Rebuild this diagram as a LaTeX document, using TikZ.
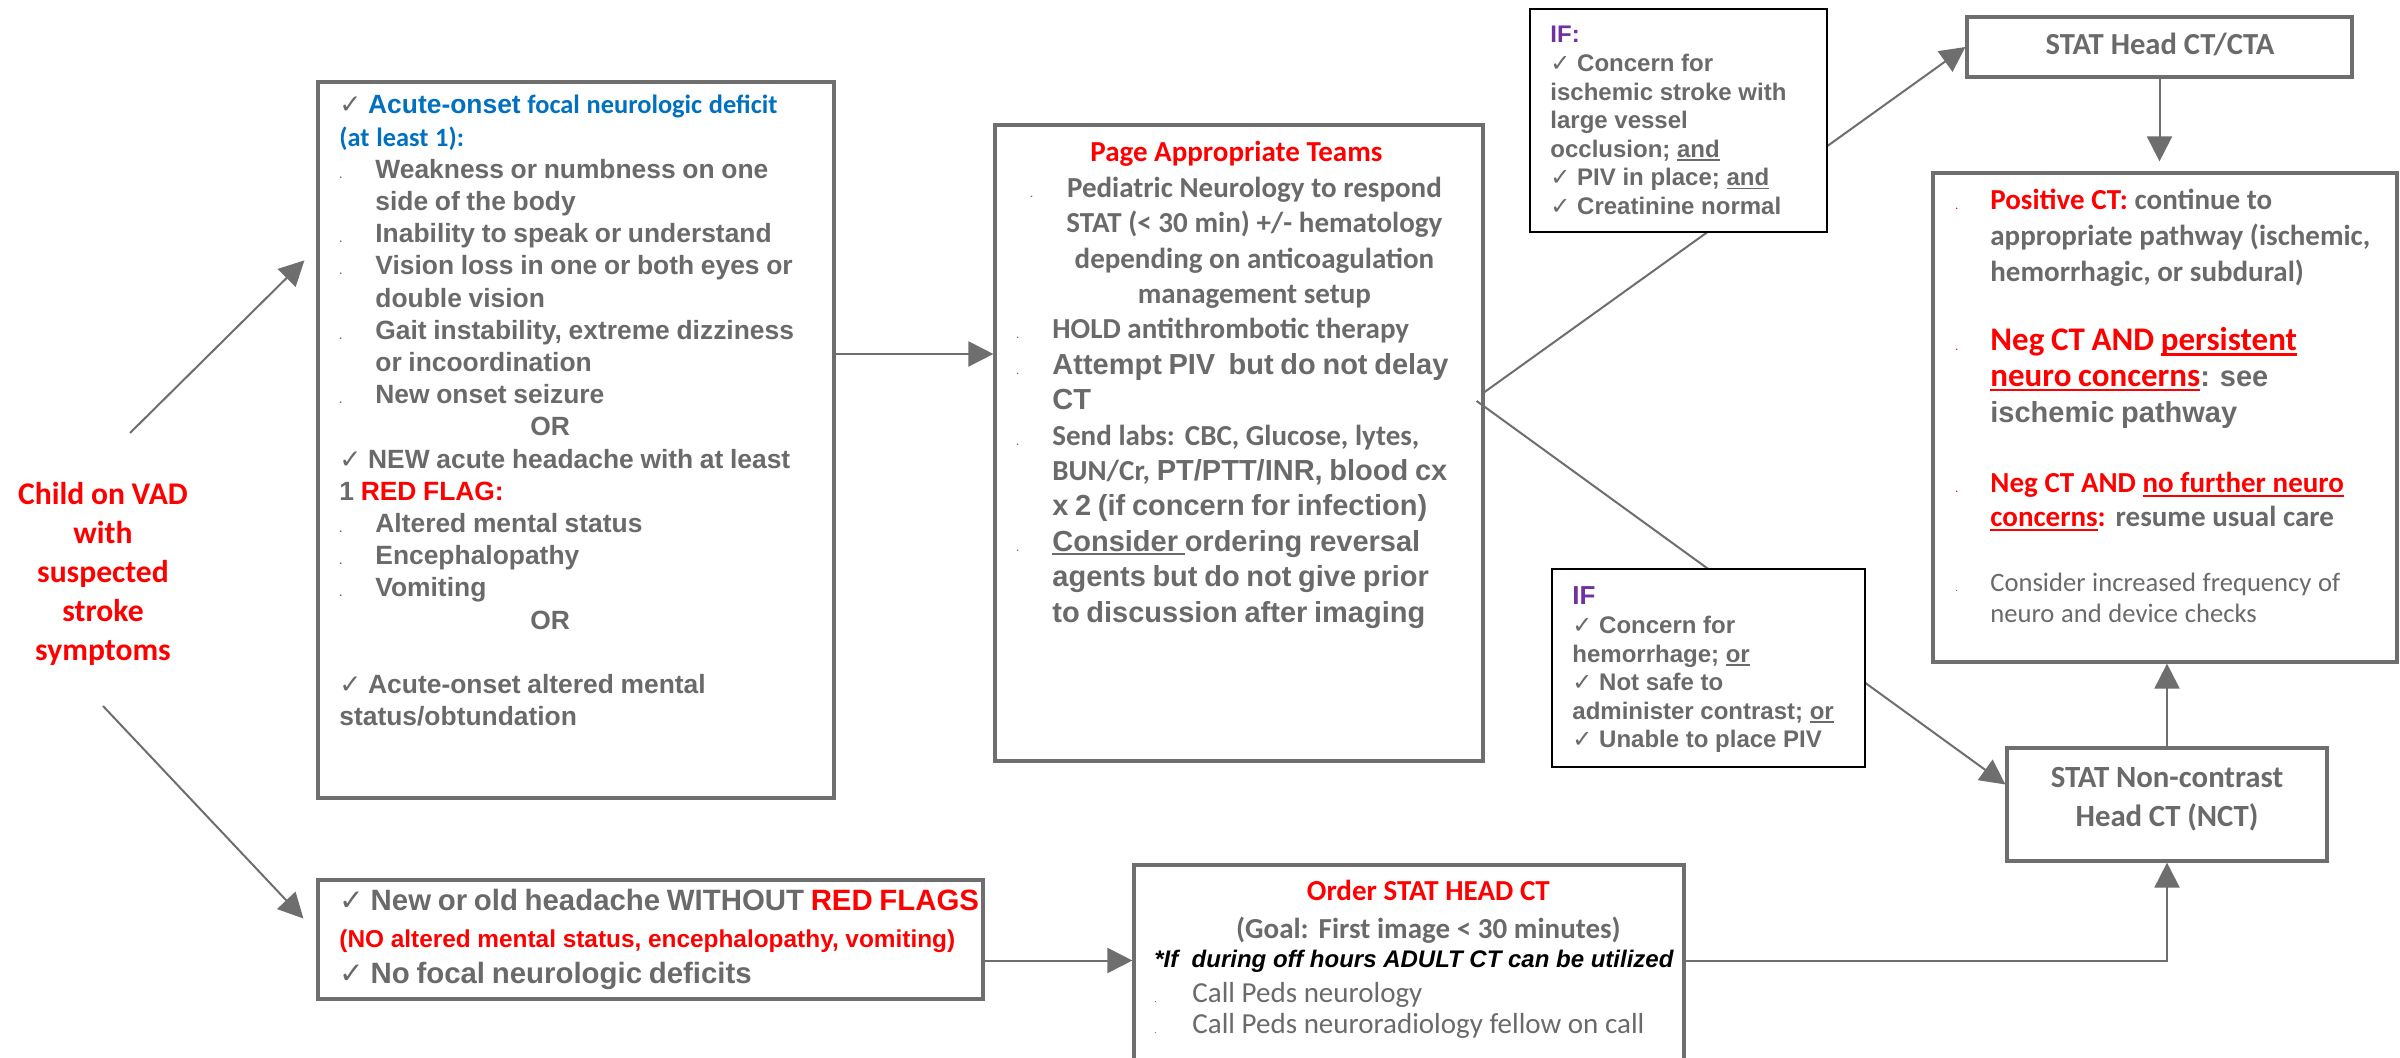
\documentclass[tikz,border=0pt]{standalone}
\usepackage{fontspec}
\usepackage{xcolor}
\usepackage{tikz}
\usetikzlibrary{arrows.meta, positioning, fit, calc}

\setmainfont{Liberation Sans}
\newfontfamily\calib{Carlito}
\newfontfamily\chkfont{DejaVu Sans}

\definecolor{txtgray}{HTML}{6A6A6A}
\definecolor{lgray}{HTML}{6E6E6E}
\definecolor{nred}{HTML}{FF0000}
\definecolor{nblue}{HTML}{0070C0}
\definecolor{npurple}{HTML}{7030A0}

\newsavebox\ulbox
\newcommand{\uln}[1]{\sbox\ulbox{#1}\rlap{\rule[-0.14em]{\wd\ulbox}{0.07em}}\usebox\ulbox}
\newcommand{\chk}{{\chkfont\mdseries ✓}}
\newcommand{\bul}[1][18pt]{\hangindent=#1\hangafter=1\makebox[#1][l]{\tiny.}}
\newcommand{\rbul}[1][17.5pt]{\hangindent=#1\hangafter=1\makebox[#1][l]{\color{nred}\tiny.}}

\tikzset{%
	box/.style={draw=lgray, line width=1.6pt, inner sep=0pt, fill=white},
	cond/.style={draw=black, line width=1.3pt, inner sep=0pt, fill=white},
	sel/.style={draw=lgray, line width=1pt, -{Triangle[length=12.5pt, width=12.5pt]}},
	txt/.style={inner sep=0pt, anchor=base west, align=left, text=txtgray, font=\bfseries},
	head/.style={inner sep=0pt, anchor=base, align=center, text=txtgray, font=\calib\bfseries}
}

\begin{document}
\begin{tikzpicture}[x=0.5pt, y=-0.5pt]
	\path[use as bounding box, fill=white] (0,0) rectangle (2400,1058);

	% frames
	\node[box, fit={(318,82) (834,798)}] (A) {};
	\node[box, fit={(318,880) (983,999)}] (B) {};
	\node[box, fit={(995,125) (1483,761)}] (C) {};
	\node[box, fit={(1134,865) (1684,1075)}] (D) {};
	\node[box, fit={(1967,17) (2352,77)}] (cta) {};
	\node[box, fit={(1933,173) (2397,662)}] (res) {};
	\node[box, fit={(2007,748) (2327,861)}] (nct) {};

	% arrows
	\coordinate (up) at (130,433);
	\coordinate (down) at (103,706);
	\draw[sel] (up) -- ($(A.north west)+(-12,180)$);
	\draw[sel] (down) -- ($(B.west)+(-13,-21)$);
	\draw[sel] ($(A.east)+(0,-86)$) coordinate (ac) -- (ac -| C.west);
	\draw[sel] ($(C.east)+(0,-51)$) -- (cta.west);
	\draw[sel] ($(C.east)+(-8,-42)$) -- ($(nct.west)+(0,-20)$);
	\draw[sel] ($(B.east)+(0,21)$) coordinate (bd) -- (bd -| D.west);
	\draw[sel] (bd -| D.east) -| (nct.south);
	\draw[sel] (nct.north) -- (nct.north |- res.south);
	\draw[sel, shorten >=5pt] (cta.south) -- (cta.south |- res.north);

	% conditions sit on top of the arrows
	\node[cond, fit={(1530,9) (1827,232)}] (if1) {};
	\node[cond, fit={(1552,569) (1865,767)}] (if2) {};

	\node[head, text=nred, text width=110pt] (child) at (103,505)
		{\fontsize{15.8}{19.4}\selectfont Child on VAD\\ with\\ suspected\\ stroke\\ symptoms\par};

	\node[txt, text width=250pt] (tA) at (339,114) {\fontsize{13.2}{16.1}\selectfont
		\chk\ {\color{nblue}Acute-onset {\calib focal neurologic deficit}\newline {\calib (at least 1):}}\par
		\bul Weakness or numbness on one\newline side of the body\par
		\bul Inability to speak or understand\par
		\bul Vision loss in one or both eyes or\newline double vision\par
		\bul Gait instability, extreme dizziness\newline or incoordination\par
		\bul New onset seizure\par
		\hspace*{95.5pt}OR\par
		\chk\ NEW acute headache with at least\newline 1 {\color{nred}RED FLAG:}\par
		\bul Altered mental status\par
		\bul Encephalopathy\par
		\bul Vomiting\par
		\hspace*{95.5pt}OR\par
		\mbox{}\par
		\chk\ Acute-onset altered mental\newline status/obtundation\par};

	\node[txt, text width=330pt] (tB) at (339,910) {\fontsize{14.7}{18}\selectfont
		\chk\ New or old headache WITHOUT {\color{nred}RED FLAGS}\par
		{\fontsize{12.2}{18.5}\selectfont\leavevmode\color{nred}(NO altered mental status, encephalopathy, vomiting)\par}
		\chk\ No focal neurologic deficits\par};

	\node[txt, text width=220pt] (tC) at (1016,162) {\calib\fontsize{14.5}{17.7}\selectfont
		{\centering\color{nred}Page Appropriate Teams\par}
		{\centering\leftskip=18pt plus 1fil\relax\leavevmode\llap{\tiny.\hspace{17pt}}Pediatric Neurology to respond\\
			STAT (< 30 min) +/- hematology\\ depending on anticoagulation\\ management setup\par}
		\bul HOLD antithrombotic therapy\par
		\bul{\rmfamily Attempt PIV\ \ but do not delay\newline CT}\par
		\bul Send labs: CBC, Glucose, lytes,\newline BUN/Cr, {\rmfamily PT/PTT/INR, blood cx\newline x 2 (if concern for infection)}\par
		\bul{\rmfamily\uln{Consider }ordering reversal\newline agents but do not give prior\newline to discussion after imaging}\par};

	\node[txt, text width=274pt] (tD) at (1154,900) {\calib\fontsize{14.5}{19}\selectfont
		{\centering\color{nred}Order STAT HEAD CT\par}
		{\centering (Goal: First image < 30 minutes)\par}
		{\rmfamily\itshape\fontsize{12}{14.5}\selectfont\leavevmode\color{black}*If\ \ during off hours ADULT CT can be utilized\par}
		{\mdseries\fontsize{14.5}{17.5}\selectfont\bul[19pt]Call Peds neurology\par}
		{\mdseries\fontsize{14.5}{15.5}\selectfont\bul[19pt]Call Peds neuroradiology fellow on call\par}};

	\node[txt, text width=140pt] (tI1) at (1550,43) {\fontsize{12}{14.3}\selectfont
		{\color{npurple}IF:}\par
		\chk\ Concern for\newline ischemic stroke with\newline large vessel\newline occlusion; \uln{and}\par
		\chk\ PIV in place; \uln{and}\par
		\chk\ Creatinine normal\par};

	\node[txt, text width=150pt] (tI2) at (1572,605) {\fontsize{12}{14.3}\selectfont
		{\color{npurple}\fontsize{13}{14.3}\selectfont IF}\par
		\chk\ Concern for\newline hemorrhage; \uln{or}\par
		\chk\ Not safe to\newline administer contrast; \uln{or}\par
		\chk\ Unable to place PIV\par};

	\node[head] (ctat) at (2160,55) {\fontsize{15.3}{18}\selectfont STAT Head CT/CTA};
	\node[head, text width=150pt] (nctt) at (2167,788)
		{\fontsize{15.4}{19.5}\selectfont STAT Non-contrast\\ Head CT (NCT)\par};

	\node[txt, text width=225pt] (r1) at (1955,210) {\calib\fontsize{14.5}{17.8}\selectfont
		\rbul{\color{nred}Positive CT:} continue to\newline appropriate pathway (ischemic,\newline hemorrhagic, or subdural)\par};
	\node[txt, text width=225pt] (r2) at (1955,351) {\calib\fontsize{16.5}{17.8}\selectfont
		\rbul{\color{nred}Neg CT AND \uln{persistent}\newline \uln{neuro concerns}}{\rmfamily\fontsize{14.5}{17}\selectfont: see\newline ischemic pathway}\par};
	\node[txt, text width=225pt] (r3) at (1955,493) {\calib\fontsize{14.5}{17}\selectfont
		\rbul{\color{nred}Neg CT AND \uln{no further neuro}\newline \uln{concerns}:} resume usual care\par};
	\node[txt, text width=225pt] (r4) at (1955,592) {\calib\mdseries\fontsize{13.3}{15.5}\selectfont
		\bul[17.5pt]Consider increased frequency of\newline neuro and device checks\par};
\end{tikzpicture}
\end{document}
